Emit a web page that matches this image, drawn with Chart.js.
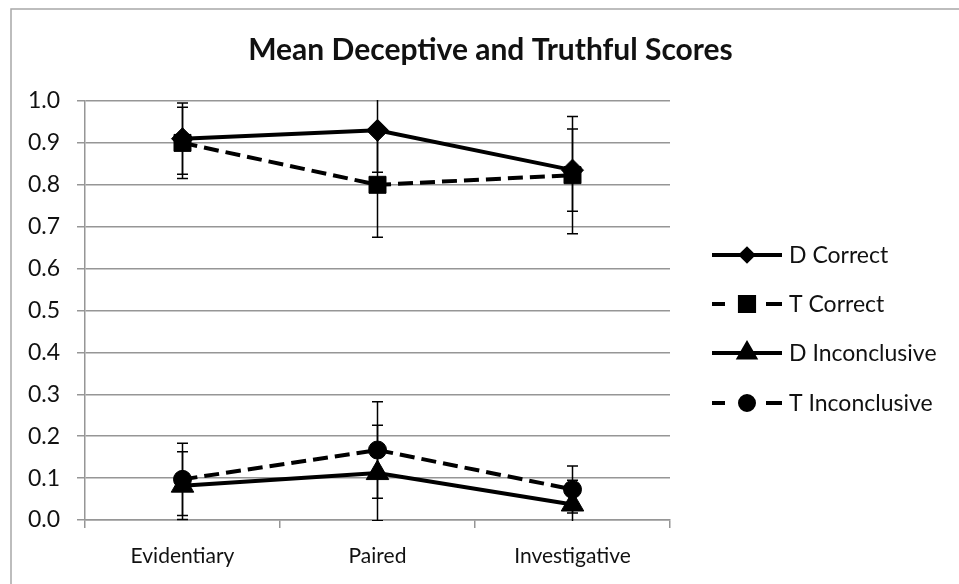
<!DOCTYPE html>
<html>
<head>
<meta charset="utf-8">
<script src="https://cdn.jsdelivr.net/npm/chart.js@4.4.1/dist/chart.umd.min.js"></script>
<style>
  html, body { margin: 0; padding: 0; background: #fff; }
  #wrap { width: 959px; height: 584px; position: relative; }
</style>
</head>
<body>
<div id="wrap"><canvas id="scoresChart"></canvas></div>
<script>
  // chart data
  const categories = ['Evidentiary', 'Paired', 'Investigative'];
  const dCorrect = [0.91, 0.93, 0.835];
  const dCorrectErr = [0.085, 0.10, 0.098];
  const tCorrect = [0.90, 0.80, 0.823];
  const tCorrectErr = [0.085, 0.125, 0.14];
  const dInconclusive = [0.082, 0.112, 0.037];
  const dInconclusiveErr = [0.081, 0.114, 0.058];
  const tInconclusive = [0.097, 0.167, 0.073];
  const tInconclusiveErr = [0.086, 0.115, 0.056];

  const FONT = 'Lato, "Open Sans", sans-serif';
  const GRID = '#969696';
  const TEXT = '#111';

  // ===== error bars, drawn through the y scale =====
  const errorBars = {
    id: 'errorBars',
    afterDatasetsDraw(chart) {
      const { ctx, chartArea, scales: { y } } = chart;
      ctx.save();
      ctx.beginPath();
      ctx.rect(chartArea.left, chartArea.top - 1, chartArea.width, chartArea.height + 2);
      ctx.clip();
      ctx.strokeStyle = '#000';
      ctx.lineWidth = 1.5;
      chart.data.datasets.forEach((ds, i) => {
        const meta = chart.getDatasetMeta(i);
        meta.data.forEach((pt, j) => {
          const v = ds.data[j], e = ds.errors[j];
          const top = y.getPixelForValue(v + e);
          const bot = y.getPixelForValue(v - e);
          ctx.beginPath();
          ctx.moveTo(pt.x, top); ctx.lineTo(pt.x, bot);
          ctx.moveTo(pt.x - 5.5, top); ctx.lineTo(pt.x + 5.5, top);
          ctx.moveTo(pt.x - 5.5, bot); ctx.lineTo(pt.x + 5.5, bot);
          ctx.stroke();
        });
      });
      ctx.restore();
    }
  };

  // ===== outer frame + white background =====
  const frame = {
    id: 'frame',
    beforeDraw(chart) {
      const ctx = chart.ctx;
      ctx.save();
      ctx.fillStyle = '#fff';
      ctx.fillRect(0, 0, chart.width, chart.height);
      ctx.strokeStyle = '#a8a8a8';
      ctx.lineWidth = 1.5;
      ctx.strokeRect(11, 9, chart.width + 50, chart.height + 50);
      ctx.restore();
    }
  };

  // ===== line + marker legend (Excel style) =====
  const legendMarker = { rectRot: 6, rect: 10, triangle: 9, circle: 7 };
  const lineLegend = {
    id: 'lineLegend',
    afterDraw(chart) {
      const ctx = chart.ctx;
      const x0 = 712, x1 = 782, xm = 747;
      const rows = [255, 304, 353, 403];
      ctx.save();
      chart.data.datasets.forEach((ds, i) => {
        const yy = rows[i];
        ctx.strokeStyle = '#000';
        ctx.lineWidth = 4;
        ctx.beginPath();
        if (ds.borderDash && ds.borderDash.length) {
          ctx.moveTo(x0, yy); ctx.lineTo(x0 + 13, yy);
          ctx.moveTo(x1 - 16, yy); ctx.lineTo(x1, yy);
        } else {
          ctx.moveTo(x0, yy); ctx.lineTo(x1, yy);
        }
        ctx.stroke();
        Chart.helpers.drawPoint(ctx, {
          pointStyle: ds.pointStyle,
          radius: legendMarker[ds.pointStyle],
          borderWidth: 1
        }, xm, yy);
        ctx.fillStyle = '#000';
        ctx.fill();
        ctx.fillStyle = TEXT;
        ctx.font = '23px ' + FONT;
        ctx.textBaseline = 'middle';
        ctx.fillText(ds.label, 789, yy + 1);
      });
      ctx.restore();
    }
  };

  function series(label, data, errors, pointStyle, radius, dashed) {
    return {
      label: label,
      data: data,
      errors: errors,
      borderColor: '#000',
      backgroundColor: '#000',
      borderWidth: 4,
      borderDash: dashed ? [15, 7] : [],
      pointStyle: pointStyle,
      pointRadius: radius,
      pointBorderWidth: 1,
      pointBackgroundColor: '#000',
      pointBorderColor: '#000',
      tension: 0,
      clip: false
    };
  }

  const ctx = document.getElementById('scoresChart').getContext('2d');
  const scoresChart = new Chart(ctx, {
    type: 'line',
    data: {
      labels: categories,
      datasets: [
        series('D Correct', dCorrect, dCorrectErr, 'rectRot', 11, false),
        series('T Correct', tCorrect, tCorrectErr, 'rect', 12, true),
        series('D Inconclusive', dInconclusive, dInconclusiveErr, 'triangle', 13, false),
        series('T Inconclusive', tInconclusive, tInconclusiveErr, 'circle', 9, true)
      ]
    },
    options: {
      responsive: true,
      maintainAspectRatio: false,
      animation: false,
      layout: { padding: { left: 22, right: 0, top: 0, bottom: 0 } },
      scales: {
        x: {
          offset: true,
          grid: {
            offset: true,
            drawOnChartArea: false,
            drawTicks: true,
            tickLength: 8,
            color: GRID,
            lineWidth: 1.5
          },
          border: { display: true, color: GRID, width: 1.5 },
          ticks: { color: TEXT, padding: 16, font: { family: FONT, size: 21 } },
          afterFit: (s) => { s.height = 64; }
        },
        y: {
          min: 0,
          max: 1,
          grid: { color: GRID, lineWidth: 1.5, tickLength: 8 },
          border: { display: true, color: GRID, width: 1.5 },
          ticks: {
            stepSize: 0.1,
            padding: 17,
            color: TEXT,
            font: { family: FONT, size: 23 },
            callback: (v) => Number(v).toFixed(1)
          },
          afterFit: (s) => { s.width = 63; }
        },
        legendSpace: {
          type: 'linear',
          position: 'right',
          display: true,
          grid: { display: false },
          border: { display: false },
          ticks: { display: false },
          afterFit: (s) => { s.width = 289; }
        }
      },
      plugins: {
        legend: { display: false },
        tooltip: { enabled: false },
        title: {
          display: true,
          text: 'Mean Deceptive and Truthful Scores',
          color: TEXT,
          font: { family: FONT, size: 30, weight: 'bold' },
          padding: { top: 32, bottom: 33 }
        }
      }
    },
    plugins: [frame, errorBars, lineLegend]
  });
</script>
</body>
</html>
